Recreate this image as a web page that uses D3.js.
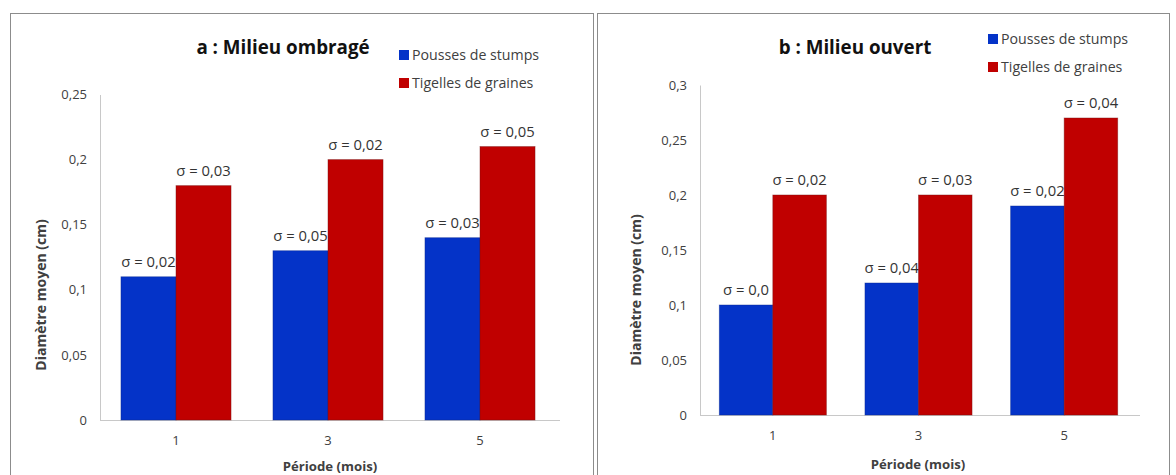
<!DOCTYPE html>
<html><head><meta charset="utf-8">
<script src="https://cdn.jsdelivr.net/npm/d3@7"></script>
<style>html,body{margin:0;padding:0;background:#fff;}svg{display:block;}</style>
</head><body>
<svg id="chart" width="1176" height="475"></svg>
<script>
const periods = ["1", "3", "5"];
const seriesNames = ["Pousses de stumps", "Tigelles de graines"];
const shadedStumps = [0.11, 0.13, 0.14];
const shadedSeeds = [0.18, 0.20, 0.21];
const shadedStumpsSigma = ["σ = 0,02", "σ = 0,05", "σ = 0,03"];
const shadedSeedsSigma = ["σ = 0,03", "σ = 0,02", "σ = 0,05"];
const openStumps = [0.10, 0.12, 0.19];
const openSeeds = [0.20, 0.20, 0.27];
const openStumpsSigma = ["σ = 0,0", "σ = 0,04", "σ = 0,02"];
const openSeedsSigma = ["σ = 0,02", "σ = 0,03", "σ = 0,04"];
const shadedTicks = [0, 0.05, 0.1, 0.15, 0.2, 0.25];
const openTicks = [0, 0.05, 0.1, 0.15, 0.2, 0.25, 0.3];
const titles = ["a : Milieu ombragé", "b : Milieu ouvert"];
const yTitle = "Diamètre moyen (cm)";
const xTitle = "Période (mois)";

const colors = ["#0433C8", "#C00000"];
const FONT = "'Open Sans', 'Noto Sans', sans-serif";
const fr = d3.formatLocale({decimal: ",", thousands: " ", grouping: [3], currency: ["", "€"]});
const fmt = fr.format("~g");

const svg = d3.select("#chart");

function panel(cfg) {
  const g = svg.append("g");
  g.append("rect").attr("x", cfg.frame[0] + 0.5).attr("y", cfg.frame[1] + 0.5)
    .attr("width", cfg.frame[2]).attr("height", cfg.frame[3])
    .attr("fill", "#fff").attr("stroke", "#8c8c8c").attr("stroke-width", 1);

  const x0 = d3.scaleBand().domain(cfg.periods).range(cfg.xRange)
    .paddingInner(cfg.pad).paddingOuter(cfg.pad / 2);
  const x1 = d3.scaleBand().domain([0, 1]).range([0, x0.bandwidth()]);
  const y = d3.scaleLinear().domain(cfg.yDomain).range(cfg.yRange);

  const ya = g.append("g").attr("transform", `translate(${cfg.xRange[0]},0)`)
    .call(d3.axisLeft(y).tickValues(cfg.ticks).tickFormat(fmt).tickSize(0).tickPadding(13));
  ya.select(".domain").attr("stroke", "#c8c8c8");
  ya.selectAll("text").attr("font-family", FONT).attr("font-size", 13).attr("fill", "#404040");

  const xa = g.append("g").attr("transform", `translate(0,${cfg.yRange[0]})`)
    .call(d3.axisBottom(x0).tickSize(0).tickPadding(16).tickSizeOuter(0));
  xa.select(".domain").attr("stroke", "#c8c8c8").attr("d", `M${cfg.xRange[0]},0.5H${cfg.xAxisEnd}`);
  xa.selectAll("text").attr("font-family", FONT).attr("font-size", 13).attr("fill", "#404040");

  const series = [cfg.s0, cfg.s1];
  const sig = [cfg.sig0, cfg.sig1];
  series.forEach((vals, si) => {
    g.append("g").selectAll("rect").data(vals).join("rect")
      .attr("x", (d, i) => x0(cfg.periods[i]) + x1(si))
      .attr("y", d => y(d))
      .attr("width", x1.bandwidth())
      .attr("height", d => y(0) - y(d))
      .attr("fill", colors[si])
      .attr("stroke", si === 0 ? "#0a2a90" : "#7a1010").attr("stroke-opacity", 0.55).attr("stroke-width", 0.8);
    g.append("g").selectAll("text").data(vals).join("text")
      .attr("x", (d, i) => x0(cfg.periods[i]) + x1(si) + x1.bandwidth() / 2)
      .attr("y", d => y(d) - 10)
      .attr("text-anchor", "middle")
      .attr("font-family", FONT).attr("font-size", 14.8).attr("fill", "#333")
      .text((d, i) => sig[si][i]);
  });

  g.append("text").attr("x", cfg.title[0]).attr("y", cfg.title[1])
    .attr("text-anchor", "middle").attr("font-family", FONT).attr("font-weight", "bold")
    .attr("font-size", 18.8).attr("fill", "#111").text(cfg.titleText);

  seriesNames.forEach((n, i) => {
    g.append("rect").attr("x", cfg.legend[0]).attr("y", cfg.legend[1] + i * 28 - 10)
      .attr("width", 10).attr("height", 10).attr("fill", colors[i]);
    g.append("text").attr("x", cfg.legend[0] + 13).attr("y", cfg.legend[1] + i * 28)
      .attr("font-family", FONT).attr("font-size", 14.2).attr("fill", "#404040").text(n);
  });

  g.append("text").attr("transform", `translate(${cfg.yt[0]},${cfg.yt[1]}) rotate(-90)`)
    .attr("text-anchor", "middle").attr("font-family", FONT).attr("font-weight", "bold")
    .attr("font-size", 14).attr("fill", "#404040").text(yTitle);
  g.append("text").attr("x", cfg.xt[0]).attr("y", cfg.xt[1])
    .attr("text-anchor", "middle").attr("font-family", FONT).attr("font-weight", "bold")
    .attr("font-size", 13.2).attr("fill", "#404040").text(xTitle);
}

panel({
  frame: [10, 13, 583, 470],
  periods, xRange: [100, 556], xAxisEnd: 560, pad: 0.276,
  yDomain: [0, 0.25], yRange: [420, 94.5], ticks: shadedTicks,
  s0: shadedStumps, s1: shadedSeeds, sig0: shadedStumpsSigma, sig1: shadedSeedsSigma,
  titleText: titles[0], title: [283, 54], legend: [399, 60],
  yt: [46, 295], xt: [330, 471]
});
panel({
  frame: [597, 13, 572, 470],
  periods, xRange: [700, 1137], xAxisEnd: 1140, pad: 0.265,
  yDomain: [0, 0.3], yRange: [415, 85], ticks: openTicks,
  s0: openStumps, s1: openSeeds, sig0: openStumpsSigma, sig1: openSeedsSigma,
  titleText: titles[1], title: [855, 54], legend: [988, 44],
  yt: [641, 290], xt: [918, 469]
});
</script>
</body></html>
